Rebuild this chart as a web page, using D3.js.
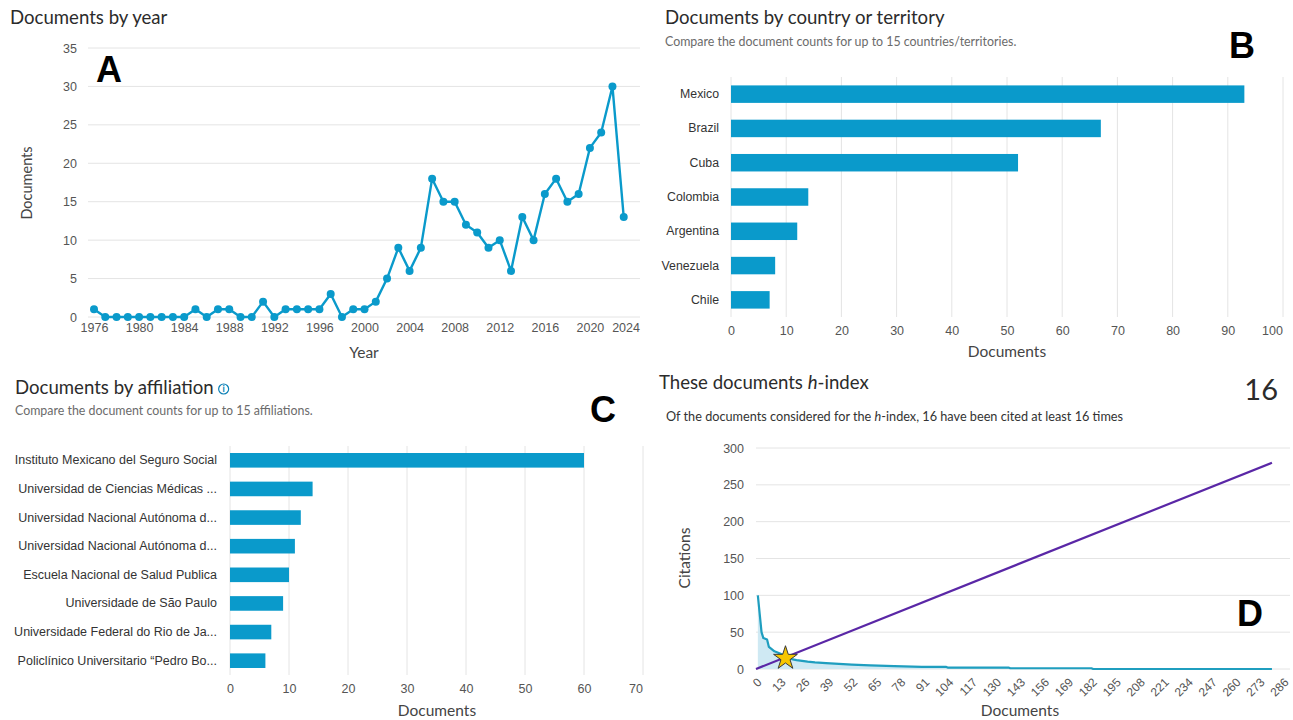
<!DOCTYPE html>
<html><head><meta charset="utf-8">
<script src="https://cdn.jsdelivr.net/npm/d3@7"></script>
<style>
html,body{margin:0;padding:0;background:#fff;}
svg{display:block;font-family:Lato,"Open Sans",sans-serif;}
</style></head>
<body><svg id="c" width="1293" height="720"></svg>
<script>
// ---- Data ----
const years = [1976,1977,1978,1979,1980,1981,1982,1983,1984,1985,1986,1987,1988,1989,1990,1991,1992,1993,1994,1995,1996,1997,1998,1999,2000,2001,2002,2003,2004,2005,2006,2007,2008,2009,2010,2011,2012,2013,2014,2015,2016,2017,2018,2019,2020,2021,2022,2023];
const yearDocs = [1,0,0,0,0,0,0,0,0,1,0,1,1,0,0,2,0,1,1,1,1,3,0,1,1,2,5,9,6,9,18,15,15,12,11,9,10,6,13,10,16,18,15,16,22,24,30,13];
const yearTicks = [1976,1980,1984,1988,1992,1996,2000,2004,2008,2012,2016,2020,2024];
const yearYTicks = [0,5,10,15,20,25,30,35];

const countries = ["Mexico","Brazil","Cuba","Colombia","Argentina","Venezuela","Chile"];
const countryDocs = [93,67,52,14,12,8,7];
const countryTicks = [0,10,20,30,40,50,60,70,80,90,100];

const affiliations = ["Instituto Mexicano del Seguro Social","Universidad de Ciencias Médicas ...","Universidad Nacional Autónoma d...","Universidad Nacional Autónoma d...","Escuela Nacional de Salud Publica","Universidade de São Paulo","Universidade Federal do Rio de Ja...","Policlínico Universitario “Pedro Bo..."];
const affiliationDocs = [60,14,12,11,10,9,7,6];
const affiliationTicks = [0,10,20,30,40,50,60,70];

const hDoc = [1,2,3,4,5,6,7,8,9,10,11,12,13,14,15,16,17,18,19,20,22,25,28,32,38,45,52,62,75,90,103,104,137,138,182,183,280];
const hCit = [100,75,50,42,41,40,30,28,26,24,23,22,21,20,19,17,16,15,14,13,12,11,10,9,8,7,6,5,4,3,3,2,2,1,1,0,0];
const hIndex = 16;
const hTotalDocs = 280;
const hXTicks = [0,13,26,39,52,65,78,91,104,117,130,143,156,169,182,195,208,221,234,247,260,273,286];
const hYTicks = [0,50,100,150,200,250,300];

// ---- Styles ----
const BLUE = "#0a9acb", GRID = "#e4e4e4", TICK = "#555", TITLE = "#2b2b2b", SUB = "#6b6b6b";
const TS = 18.6, SS = 12.4;
const svg = d3.select("#c");

function justifyLast(g, rightEdge){
  const nodes = g.selectAll(".tick text").nodes();
  const last = nodes[nodes.length-1];
  if(!last) return;
  const bb = last.getBoundingClientRect();
  const over = bb.right - rightEdge;
  if(over > 0) d3.select(last).attr("dx", -over);
}
function styleAxis(g, size){
  g.select(".domain").remove();
  g.selectAll(".tick line").remove();
  g.selectAll(".tick text").attr("fill", TICK).style("font-size", size+"px");
}
function text(x,y,s,opt={}){
  const t = svg.append("text").attr("x",x).attr("y",y).text(s)
    .attr("fill",opt.fill||TITLE).style("font-size",(opt.size||12)+"px")
    .attr("text-anchor",opt.anchor||"start");
  if(opt.weight) t.style("font-weight",opt.weight);
  if(opt.family) t.style("font-family",opt.family);
  if(opt.rotate) t.attr("transform",`rotate(${opt.rotate},${x},${y})`);
  return t;
}

// ===== Panel A =====
{
  const x = d3.scaleLinear().domain([1976,2024]).range([94,635]);
  const y = d3.scaleLinear().domain([0,35]).range([317,48]);
  const gL = 88, gR = 640;
  svg.append("g").selectAll("line").data(yearYTicks).join("line")
    .attr("x1",gL).attr("x2",gR).attr("y1",d=>y(d)).attr("y2",d=>y(d))
    .attr("stroke",GRID).attr("stroke-width",1);
  const ya = svg.append("g").attr("transform",`translate(${gL},0)`)
    .call(d3.axisLeft(y).tickValues(yearYTicks).tickSize(0).tickPadding(11));
  styleAxis(ya,12.5);
  const xa = svg.append("g").attr("transform",`translate(0,${y(0)})`)
    .call(d3.axisBottom(x).tickValues(yearTicks).tickFormat(d3.format("d")).tickSize(0).tickPadding(6));
  styleAxis(xa,12.5);
  justifyLast(xa, gR);
  const data = years.map((d,i)=>[d,yearDocs[i]]);
  svg.append("path").datum(data)
    .attr("d", d3.line().x(d=>x(d[0])).y(d=>y(d[1])))
    .attr("fill","none").attr("stroke",BLUE).attr("stroke-width",2.4).attr("stroke-linejoin","round");
  svg.append("g").selectAll("circle").data(data).join("circle")
    .attr("cx",d=>x(d[0])).attr("cy",d=>y(d[1])).attr("r",4).attr("fill",BLUE);
  text(10,24,"Documents by year",{size:TS});
  text(364,358,"Year",{size:15.5,anchor:"middle",fill:"#444"});
  text(32,183,"Documents",{size:14.5,anchor:"middle",fill:"#444",rotate:-90});
  text(96,82,"A",{size:36,weight:"bold",family:"Arial, 'Liberation Sans', sans-serif",fill:"#000"});
}

// ===== Panel B =====
{
  const x = d3.scaleLinear().domain([0,100]).range([731,1283]);
  const y = d3.scaleBand().domain(countries).range([77,317]).paddingInner(0.49).paddingOuter(0.245);
  svg.append("g").selectAll("line").data(countryTicks).join("line")
    .attr("x1",d=>x(d)).attr("x2",d=>x(d)).attr("y1",77).attr("y2",317)
    .attr("stroke",GRID).attr("stroke-width",1);
  svg.append("g").selectAll("rect").data(countries).join("rect")
    .attr("x",x(0)).attr("y",d=>y(d)).attr("height",y.bandwidth())
    .attr("width",(d,i)=>x(countryDocs[i])-x(0)).attr("fill",BLUE);
  const xa = svg.append("g").attr("transform",`translate(0,317)`)
    .call(d3.axisBottom(x).tickValues(countryTicks).tickSize(0).tickPadding(9));
  styleAxis(xa,12.5);
  justifyLast(xa, 1283);
  const ya = svg.append("g").attr("transform",`translate(731,0)`)
    .call(d3.axisLeft(y).tickSize(0).tickPadding(12));
  styleAxis(ya,12.3);
  ya.selectAll(".tick text").attr("fill","#333");
  text(665,24,"Documents by country or territory",{size:TS});
  text(665,46,"Compare the document counts for up to 15 countries/territories.",{size:SS,fill:SUB});
  text(1007,357,"Documents",{size:15.5,anchor:"middle",fill:"#444"});
  text(1229,58,"B",{size:36,weight:"bold",family:"Arial, 'Liberation Sans', sans-serif",fill:"#000"});
}

// ===== Panel C =====
{
  const x = d3.scaleLinear().domain([0,70]).range([230,643]);
  const y = d3.scaleBand().domain(d3.range(affiliations.length)).range([446,675]).paddingInner(0.49).paddingOuter(0.245);
  svg.append("g").selectAll("line").data(affiliationTicks).join("line")
    .attr("x1",d=>x(d)).attr("x2",d=>x(d)).attr("y1",446).attr("y2",675)
    .attr("stroke",GRID).attr("stroke-width",1);
  svg.append("g").selectAll("rect").data(affiliationDocs).join("rect")
    .attr("x",x(0)).attr("y",(d,i)=>y(i)).attr("height",y.bandwidth())
    .attr("width",d=>x(d)-x(0)).attr("fill",BLUE);
  const xa = svg.append("g").attr("transform",`translate(0,675)`)
    .call(d3.axisBottom(x).tickValues(affiliationTicks).tickSize(0).tickPadding(9));
  styleAxis(xa,12.5);
  justifyLast(xa, 643);
  const ya = svg.append("g").attr("transform",`translate(230,0)`)
    .call(d3.axisLeft(y).tickSize(0).tickPadding(13).tickFormat(i=>affiliations[i]));
  styleAxis(ya,12.5);
  ya.selectAll(".tick text").attr("fill","#333");
  const t = text(15,394,"Documents by affiliation",{size:TS});
  const tb = t.node().getBBox();
  const ix = tb.x+tb.width+10, iy = 389;
  svg.append("circle").attr("cx",ix).attr("cy",iy).attr("r",5).attr("fill","none").attr("stroke","#0a7fb5").attr("stroke-width",1.2);
  text(ix,iy+3.3,"i",{size:9,anchor:"middle",fill:"#0a7fb5",weight:"bold"});
  text(15,415,"Compare the document counts for up to 15 affiliations.",{size:SS,fill:SUB});
  text(437,716,"Documents",{size:15.5,anchor:"middle",fill:"#444"});
  text(590,422,"C",{size:36,weight:"bold",family:"Arial, 'Liberation Sans', sans-serif",fill:"#000"});
}

// ===== Panel D =====
{
  const x = d3.scaleLinear().domain([0,286]).range([756,1283]);
  const y = d3.scaleLinear().domain([0,300]).range([669,448]);
  svg.append("g").selectAll("line").data(hYTicks).join("line")
    .attr("x1",756).attr("x2",1290).attr("y1",d=>y(d)).attr("y2",d=>y(d))
    .attr("stroke",GRID).attr("stroke-width",1);
  const ya = svg.append("g").attr("transform",`translate(756,0)`)
    .call(d3.axisLeft(y).tickValues(hYTicks).tickSize(0).tickPadding(12));
  styleAxis(ya,12.5);
  const xa = svg.append("g").attr("transform",`translate(0,674)`)
    .call(d3.axisBottom(x).tickValues(hXTicks).tickSize(0).tickPadding(0));
  styleAxis(xa,12);
  xa.selectAll(".tick text").attr("text-anchor","end").attr("dy","0.35em").attr("y",0)
    .attr("transform","translate(3,6) rotate(-45)");
  const pts = hDoc.map((d,i)=>[d,hCit[i]]);
  svg.append("path").datum(pts)
    .attr("d", d3.area().x(d=>x(d[0])).y0(y(0)).y1(d=>y(d[1])))
    .attr("fill","#cfe9f3");
  svg.append("path").datum(pts)
    .attr("d", d3.line().x(d=>x(d[0])).y(d=>y(d[1])))
    .attr("fill","none").attr("stroke","#1f9ebf").attr("stroke-width",2.2).attr("stroke-linejoin","round");
  svg.append("path").datum([[0,0],[hTotalDocs,hTotalDocs]])
    .attr("d", d3.line().x(d=>x(d[0])).y(d=>y(d[1])))
    .attr("fill","none").attr("stroke","#5a27a6").attr("stroke-width",2.2);
  svg.append("path").attr("d", d3.symbol(d3.symbolStar).size(175)())
    .attr("transform",`translate(${x(hIndex)},${y(hIndex)+1})`)
    .attr("fill","#f7c600").attr("stroke","#3a3a3a").attr("stroke-width",1);
  text(659,389,"These documents ",{size:TS}).append("tspan").style("font-style","italic").text("h")
    .select(function(){return this.parentNode;}).append("tspan").text("-index");
  text(1278,400,String(hIndex),{size:29,anchor:"end"});
  text(666,421,"Of the documents considered for the ",{size:12.7,fill:"#333"}).append("tspan").style("font-style","italic").text("h")
    .select(function(){return this.parentNode;}).append("tspan").text("-index, 16 have been cited at least 16 times");
  text(1020,716,"Documents",{size:15.5,anchor:"middle",fill:"#444"});
  text(690,558,"Citations",{size:15.5,anchor:"middle",fill:"#444",rotate:-90});
  text(1237,626,"D",{size:36,weight:"bold",family:"Arial, 'Liberation Sans', sans-serif",fill:"#000"});
}
</script></body></html>
